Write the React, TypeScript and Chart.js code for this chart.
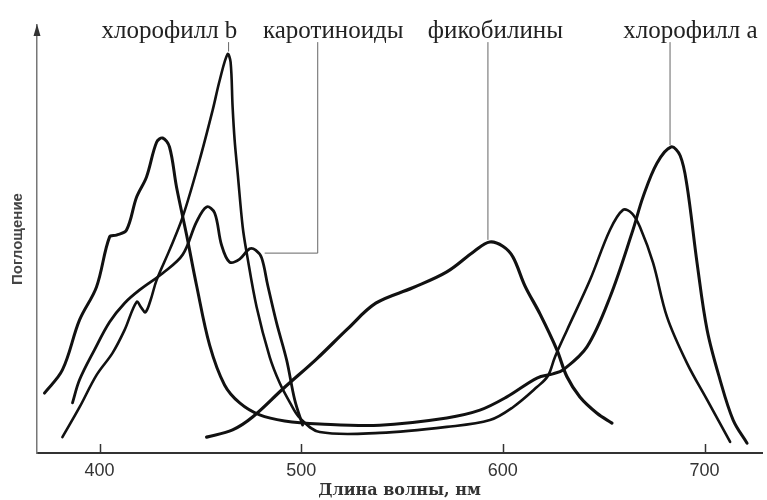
import React, { useEffect, useRef } from "react";
import { Chart, registerables } from "chart.js";

Chart.register(...registerables);

// ---- axes ----
const WAVELENGTH_MIN = 369;
const WAVELENGTH_MAX = 728.5;
const ABS_MIN = 0;
const ABS_MAX = 100;
const X_TICKS = [400, 500, 600, 700];

// ---- series (wavelength nm / relative absorption) ----
const chlA_nm = [372.7, 381.6, 390.1, 398.5, 405.0, 408.4, 413.4, 418.4, 423.3, 428.3, 431.3, 434.7, 438.2, 443.2, 448.1, 454.6, 462.0, 469.5, 479.4, 491.8, 509.2, 539.0, 572.2, 588.6, 602.0, 616.9, 624.8, 629.8, 641.7, 653.1, 664.5, 669.5, 676.4, 683.4, 687.9, 691.3, 696.3, 701.3, 707.7, 714.2, 721.1];
const chlA_abs = [14.0, 19.4, 31.1, 38.8, 50.5, 50.9, 52.1, 59.8, 64.5, 72.6, 73.6, 71.5, 62.1, 50.9, 39.2, 25.2, 15.9, 11.7, 8.9, 7.5, 6.8, 6.5, 8.2, 10.0, 13.1, 17.5, 18.5, 19.4, 24.8, 36.4, 52.1, 59.8, 67.7, 71.5, 69.5, 62.5, 44.4, 28.7, 17.1, 7.7, 2.3];

const chlB_nm = [381.6, 390.1, 398.5, 406.5, 412.4, 418.4, 420.8, 422.8, 425.3, 428.3, 434.7, 441.2, 449.6, 456.1, 459.6, 463.5, 465.0, 466.0, 467.0, 468.5, 471.0, 473.0, 477.9, 484.4, 489.3, 494.3, 499.3, 509.2, 539.0, 572.2, 593.6, 605.0, 616.9, 622.3, 625.8, 631.8, 643.2, 653.1, 659.6, 664.0, 668.0, 674.5, 681.4, 691.3, 701.3, 712.7];
const chlB_abs = [3.7, 10.7, 18.2, 23.4, 28.7, 35.3, 33.9, 32.9, 35.7, 40.4, 47.4, 55.1, 68.4, 80.1, 87.1, 93.2, 91.3, 80.8, 73.1, 65.4, 52.8, 46.7, 34.1, 22.4, 16.4, 11.9, 8.2, 4.9, 4.7, 6.1, 7.7, 10.7, 15.4, 18.0, 22.4, 28.7, 40.4, 52.1, 56.8, 56.0, 52.8, 44.4, 31.8, 21.0, 12.4, 2.6];

const carot_nm = [386.6, 390.1, 397.5, 405.0, 412.4, 419.9, 431.3, 441.2, 448.1, 453.1, 457.1, 460.5, 464.5, 469.5, 474.4, 477.4, 480.4, 483.4, 487.8, 492.8, 496.8, 500.7];
const carot_abs = [11.7, 17.1, 24.1, 30.6, 35.0, 38.1, 42.0, 46.3, 54.0, 57.5, 56.1, 48.6, 44.6, 45.3, 47.7, 47.4, 45.6, 39.2, 30.4, 21.7, 12.4, 6.5];

const phyco_nm = [453.1, 466.0, 475.9, 491.0, 507.7, 523.0, 537.0, 555.3, 572.2, 586.0, 593.5, 600.0, 605.0, 611.0, 618.4, 626.8, 631.8, 638.2, 646.7, 654.1];
const phyco_abs = [3.7, 5.4, 8.4, 15.0, 22.0, 29.0, 35.0, 38.6, 42.3, 47.2, 49.3, 48.3, 45.8, 39.0, 32.5, 24.1, 17.8, 13.1, 9.3, 7.0];

// ---- labels with leader lines (data units) ----
const LABEL_TEXTS = ["хлорофилл b", "каротиноиды", "фикобилины", "хлорофилл а"];
const LABEL_NM = [434.7, 515.9, 596.3, 693.0];
const LABEL_ABS = 97.0;
const LEADERS_NM = [[464.0, 464.0], [508.2, 508.2, 481.9], [592.6, 592.6], [682.9, 682.9]];
const LEADERS_ABS = [[96.0, 93.8], [96.0, 46.7, 46.7], [96.0, 49.8], [96.0, 71.9]];

const X_TITLE = "Длина волны, нм";
const Y_TITLE = "Поглощение";

const toPoints = (xs: number[], ys: number[]) => xs.map((x, i) => ({ x, y: ys[i] }));

const annotationPlugin = {
  id: "spectraAnnotations",
  afterDraw(chart: any) {
    const { ctx, chartArea } = chart;
    const xs = chart.scales.x;
    const ys = chart.scales.y;
    ctx.save();
    // inward tick marks
    ctx.strokeStyle = "#333";
    ctx.lineWidth = 1.5;
    X_TICKS.forEach((v) => {
      const px = Math.round(xs.getPixelForValue(v)) + 0.5;
      ctx.beginPath();
      ctx.moveTo(px, chartArea.bottom);
      ctx.lineTo(px, chartArea.bottom - 9);
      ctx.stroke();
    });
    // y-axis arrow
    const ax = chartArea.left;
    const ay = chartArea.top;
    ctx.fillStyle = "#333";
    ctx.beginPath();
    ctx.moveTo(ax, ay - 1);
    ctx.lineTo(ax - 3.5, ay + 11);
    ctx.lineTo(ax + 3.5, ay + 11);
    ctx.closePath();
    ctx.fill();
    // leader lines
    ctx.strokeStyle = "#666";
    ctx.lineWidth = 1;
    LEADERS_NM.forEach((nms, i) => {
      ctx.beginPath();
      nms.forEach((nm, j) => {
        const px = xs.getPixelForValue(nm);
        const py = ys.getPixelForValue(LEADERS_ABS[i][j]);
        if (j === 0) ctx.moveTo(px, py);
        else ctx.lineTo(px, py);
      });
      ctx.stroke();
    });
    // labels
    ctx.fillStyle = "#222";
    ctx.font = '25px "Liberation Serif", "DejaVu Serif", serif';
    ctx.textAlign = "center";
    ctx.textBaseline = "alphabetic";
    LABEL_TEXTS.forEach((t, i) => {
      ctx.fillText(t, xs.getPixelForValue(LABEL_NM[i]), ys.getPixelForValue(LABEL_ABS));
    });
    ctx.restore();
  },
};

export default function App() {
  const canvasRef = useRef<HTMLCanvasElement | null>(null);

  useEffect(() => {
    if (!canvasRef.current) return;
    const common = {
      borderColor: "#111",
      borderWidth: 3,
      pointRadius: 0,
      fill: false,
      tension: 0.35,
      borderJoinStyle: "round" as const,
      borderCapStyle: "round" as const,
    };
    const chart = new Chart(canvasRef.current, {
      type: "line",
      data: {
        datasets: [
          { label: "хлорофилл а", data: toPoints(chlA_nm, chlA_abs), ...common },
          { label: "хлорофилл b", data: toPoints(chlB_nm, chlB_abs), ...common, borderWidth: 2.6 },
          { label: "каротиноиды", data: toPoints(carot_nm, carot_abs), ...common, borderWidth: 2.8 },
          { label: "фикобилины", data: toPoints(phyco_nm, phyco_abs), ...common, borderWidth: 3.2 },
        ],
      },
      options: {
        responsive: false,
        animation: false,
        layout: { padding: { top: 25, right: 5, left: 0, bottom: 0 } },
        plugins: { legend: { display: false }, tooltip: { enabled: false } },
        scales: {
          x: {
            type: "linear",
            min: WAVELENGTH_MIN,
            max: WAVELENGTH_MAX,
            afterBuildTicks: (scale: any) => {
              scale.ticks = X_TICKS.map((v) => ({ value: v }));
            },
            afterFit: (scale: any) => {
              scale.height = 47;
            },
            grid: { display: false, drawTicks: false },
            border: { display: true, color: "#333", width: 2 },
            ticks: {
              padding: 7,
              color: "#333",
              font: { family: '"Liberation Sans", Arial, sans-serif', size: 18 },
            },
            title: {
              display: true,
              text: X_TITLE,
              color: "#333",
              padding: { top: 0, bottom: 0 },
              font: { family: '"DejaVu Serif", serif', size: 16, weight: "bold" },
            },
          },
          y: {
            type: "linear",
            min: ABS_MIN,
            max: ABS_MAX,
            afterFit: (scale: any) => {
              scale.width = 37;
            },
            grid: { display: false, drawTicks: false },
            border: { display: true, color: "#777", width: 1.5 },
            ticks: { display: false },
            title: {
              display: true,
              text: Y_TITLE,
              color: "#444",
              padding: { top: 9, bottom: 0 },
              font: { family: '"Liberation Sans", Arial, sans-serif', size: 15, weight: "bold" },
            },
          },
        },
      },
      plugins: [annotationPlugin],
    });
    return () => chart.destroy();
  }, []);

  return (
    <div style={{ position: "fixed", left: 0, top: 0, width: 767, height: 500, background: "#fff" }}>
      <canvas ref={canvasRef} width={767} height={500} />
    </div>
  );
}
